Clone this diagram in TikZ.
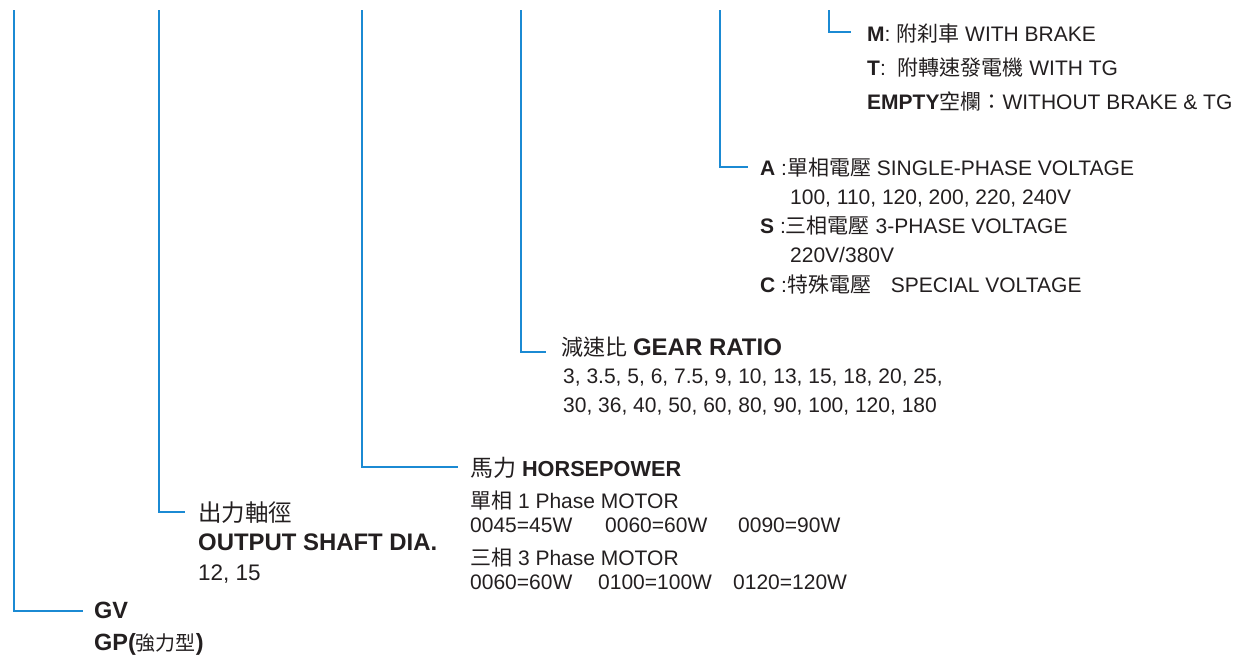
\documentclass[tikz,border=0pt]{standalone}
\usepackage{fontspec}
\setmainfont{Liberation Sans}
\newfontfamily\cjk{Noto Sans CJK TC}
\definecolor{lineblue}{HTML}{1B8AD3}
\definecolor{txt}{HTML}{231F20}
\begin{document}
\begin{tikzpicture}[x=1pt,y=-1pt,
  conn/.style={draw=lineblue, line width=2.4pt},
  lbl/.style={anchor=base west, inner sep=0pt, text=txt, font=\fontsize{21}{24}\selectfont},
  lblbig/.style={lbl, font=\fontsize{23.5}{27}\selectfont},
]
\useasboundingbox (0,0) rectangle (1239,656);
% top ends and elbow ends of connectors
\coordinate (t1) at (14,10);   \coordinate (e1) at (83,611);
\coordinate (t2) at (159,10);  \coordinate (e2) at (185,512);
\coordinate (t3) at (362,10);  \coordinate (e3) at (458,467);
\coordinate (t4) at (521,10);  \coordinate (e4) at (546,352);
\coordinate (t5) at (720,10);  \coordinate (e5) at (748,167);
\coordinate (t6) at (829,10);  \coordinate (e6) at (851,32);
\draw[conn] (t1) |- (e1);
\draw[conn] (t2) |- (e2);
\draw[conn] (t3) |- (e3);
\draw[conn] (t4) |- (e4);
\draw[conn] (t5) |- (e5);
\draw[conn] (t6) |- (e6);

% group 6: brake / TG
\node[lbl] (m) at (867,41) {\textbf{M}: {\cjk 附刹車} WITH BRAKE};
\node[lbl] (t) at (867,75) {\textbf{T}:\ \ {\cjk 附轉速發電機} WITH TG};
\node[lbl] (empty) at (867,109) {\textbf{EMPTY}{\cjk 空欄：}WITHOUT BRAKE \& TG};

% group 5: voltage
\node[lbl] (a) at (760,175) {\textbf{A} :{\cjk 單相電壓} SINGLE-PHASE VOLTAGE};
\node[lbl] (av) at (790,204) {100, 110, 120, 200, 220, 240V};
\node[lbl] (s) at (760,233) {\textbf{S} :{\cjk 三相電壓} 3-PHASE VOLTAGE};
\node[lbl] (sv) at (790,262) {220V/380V};
\node[lbl] (c) at (760,292) {\textbf{C} :{\cjk 特殊電壓}\hspace*{14pt} SPECIAL VOLTAGE};

% group 4: gear ratio
\node[lbl] (gr) at (561,355) {{\fontsize{22}{26}\selectfont\cjk 減速比} {\fontsize{24}{26}\selectfont\bfseries GEAR RATIO}};
\node[lbl] (gr1) at (563,383) {3, 3.5, 5, 6, 7.5, 9, 10, 13, 15, 18, 20, 25,};
\node[lbl] (gr2) at (563,412) {30, 36, 40, 50, 60, 80, 90, 100, 120, 180};

% group 3: horsepower
\node[lbl] (hp) at (470,476) {{\fontsize{23}{26}\selectfont\cjk 馬力} {\fontsize{21.7}{26}\selectfont\bfseries HORSEPOWER}};
\node[lbl] (p1) at (470,508) {{\cjk 單相} 1 Phase MOTOR};
\node[lbl] (p1a) at (470,532) {0045=45W};
\node[lbl] (p1b) at (605,532) {0060=60W};
\node[lbl] (p1c) at (738,532) {0090=90W};
\node[lbl] (p3) at (470,565) {{\cjk 三相} 3 Phase MOTOR};
\node[lbl] (p3a) at (470,589) {0060=60W};
\node[lbl] (p3b) at (598,589) {0100=100W};
\node[lbl] (p3c) at (733,589) {0120=120W};

% group 2: output shaft
\node[lblbig] (sh) at (198,521) {{\cjk 出力軸徑}};
\node[lblbig] (sh2) at (198,550) {{\fontsize{23.9}{27}\selectfont\bfseries OUTPUT SHAFT DIA.}};
\node[lbl, font=\fontsize{22.5}{26}\selectfont] (sh3) at (198,580) {12, 15};

% group 1: series
\node[lblbig] (gv) at (94,618) {\textbf{GV}};
\node[lblbig] (gp) at (94,650) {\textbf{GP(}{\fontsize{20}{24}\selectfont\cjk 強力型}\textbf{)}};
\end{tikzpicture}
\end{document}
